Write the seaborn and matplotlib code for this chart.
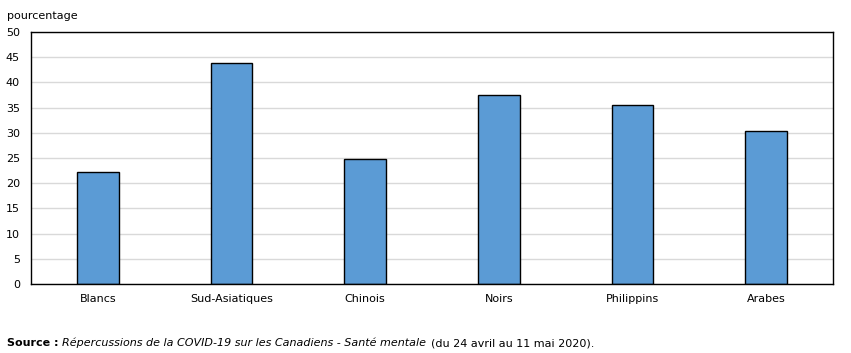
import pandas as pd
import matplotlib.pyplot as plt
import seaborn as sns

# Values
groups = ['Blancs', 'Sud-Asiatiques', 'Chinois', 'Noirs', 'Philippins', 'Arabes']
values = [22.2, 43.8, 24.9, 37.6, 35.6, 30.3]
yticks = [0, 5, 10, 15, 20, 25, 30, 35, 40, 45, 50]

df = pd.DataFrame({'groupe': groups, 'pourcentage': values})

sns.set_style('white')
plt.rcParams['font.family'] = ['DejaVu Sans']
plt.rcParams['text.color'] = 'black'
plt.rcParams['xtick.color'] = 'black'
plt.rcParams['ytick.color'] = 'black'

fig = plt.figure(figsize=(8.51, 3.53), dpi=100)
ax = fig.add_axes([0.0364, 0.1955, 0.9425, 0.7135])

sns.barplot(data=df, x='groupe', y='pourcentage', color='#5B9BD5',
            edgecolor='black', linewidth=1, width=0.31, saturation=1, ax=ax)

ax.set_ylim(0, 50)
ax.set_yticks(yticks)
ax.set_xlim(-0.5, len(groups) - 0.5)
ax.yaxis.grid(True, color='#d9d9d9', linewidth=1)
ax.set_axisbelow(True)
for s in ax.spines.values():
    s.set_color('black')
    s.set_linewidth(1)
ax.tick_params(axis='x', labelsize=8, length=0, pad=7.5)
ax.tick_params(axis='y', labelsize=8, length=0, pad=8)
ax.set_xlabel('')
ax.set_ylabel('')

fig.text(0.008, 0.955, 'pourcentage', fontsize=8, ha='left', va='center')

# source line: three pieces placed one after the other
t1 = fig.text(0.008, 0.028, 'Source :', fontsize=8, fontweight='bold', ha='left', va='center')
t2 = ax.annotate('Répercussions de la COVID-19 sur les Canadiens - Santé mentale',
                 xycoords=t1, xy=(1, 0.5), xytext=(3, 0), textcoords='offset points',
                 fontsize=8, style='italic', ha='left', va='center')
ax.annotate('(du 24 avril au 11 mai 2020).', xycoords=t2, xy=(1, 0.5),
            xytext=(3, 0), textcoords='offset points',
            fontsize=8, ha='left', va='center')

fig.savefig('out.png', dpi=100)
